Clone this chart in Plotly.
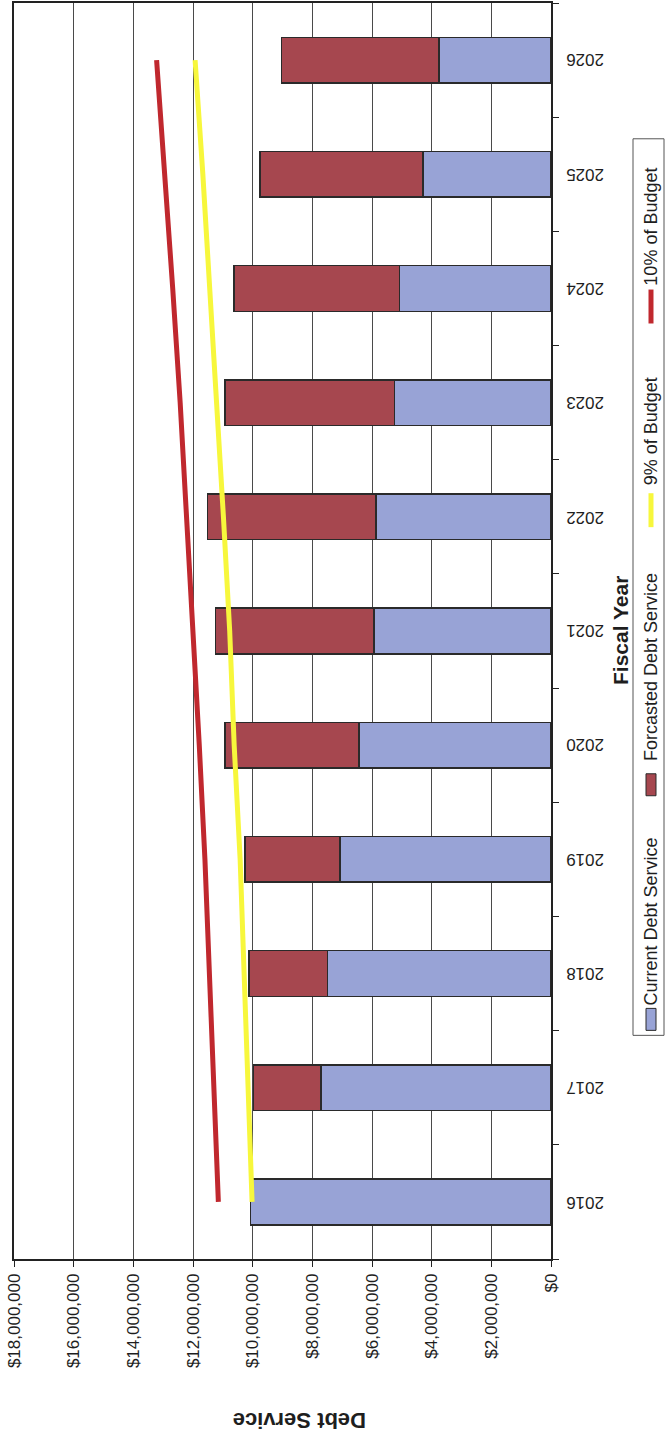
import plotly.graph_objects as go

# Fiscal years and debt service amounts (dollars)
years = ["2016", "2017", "2018", "2019", "2020", "2021", "2022", "2023", "2024", "2025", "2026"]
current_debt = [10080000, 7710000, 7490000, 7070000, 6440000, 5940000, 5870000, 5240000, 5080000, 4290000, 3760000]
forecast_debt = [0, 2260000, 2640000, 3180000, 4480000, 5300000, 5650000, 5690000, 5550000, 5470000, 5280000]
budget_9pct = [10020000, 10160000, 10300000, 10420000, 10620000, 10770000, 10980000, 11200000, 11450000, 11670000, 11930000]
budget_10pct = [11150000, 11290000, 11440000, 11600000, 11790000, 11990000, 12200000, 12430000, 12680000, 12940000, 13220000]
value_ticks = [0, 2000000, 4000000, 6000000, 8000000, 10000000, 12000000, 14000000, 16000000, 18000000]
value_tick_labels = ["$0", "$2,000,000", "$4,000,000", "$6,000,000", "$8,000,000", "$10,000,000",
                     "$12,000,000", "$14,000,000", "$16,000,000", "$18,000,000"]

BLUE = "#98A3D6"
MAROON = "#A6474F"
YELLOW = "#F7F73C"
RED = "#C0282E"
EDGE = "#2a2a2a"
FONT = "Arial, Liberation Sans, sans-serif"

W, H = 667, 1437
ML, MR, MT, MB = 14, 116, 1, 178


def px(xp):
    return (xp - ML) / (W - ML - MR)


def py(yp):
    return (H - MB - yp) / (H - MT - MB)


fig = go.Figure()
fig.add_trace(go.Bar(x=current_debt, y=years, orientation="h", name="Current Debt Service",
                     marker=dict(color=BLUE, line=dict(color=EDGE, width=1.5))))
fig.add_trace(go.Bar(x=forecast_debt, y=years, orientation="h", name="Forcasted Debt Service",
                     marker=dict(color=MAROON, line=dict(color=EDGE, width=1.5))))
fig.add_trace(go.Scatter(x=budget_9pct, y=years, mode="lines", name="9% of Budget",
                         line=dict(color=YELLOW, width=5)))
fig.add_trace(go.Scatter(x=budget_10pct, y=years, mode="lines", name="10% of Budget",
                         line=dict(color=RED, width=5)))

fig.update_layout(
    width=W, height=H,
    margin=dict(l=ML, r=MR, t=MT, b=MB),
    paper_bgcolor="white", plot_bgcolor="white",
    barmode="stack", bargap=0.6,
    showlegend=False,
    font=dict(family=FONT, color="#1e1e1e", size=17),
)
fig.update_xaxes(
    range=[18000000, 0], tickvals=value_ticks, ticktext=value_tick_labels,
    tickangle=-90, tickfont=dict(size=17),
    showgrid=True, gridcolor="#4a4a4a", gridwidth=1,
    showline=True, linecolor="#222", linewidth=1.5, mirror=True,
    ticks="outside", ticklen=6, tickcolor="#222", zeroline=False,
)
fig.update_yaxes(
    type="category", categoryorder="array", categoryarray=years,
    range=[-0.5, 10.5], side="right", showticklabels=False,
    showgrid=False, showline=True, linecolor="#222", linewidth=1.5, mirror=True,
    ticks="outside", tickson="boundaries", ticklen=6, tickcolor="#222",
)

# Fiscal year labels, turned upside down beside the category axis
for idx, yr in enumerate(years):
    fig.add_annotation(text=yr, x=px(585), y=idx, xref="paper", yref="y", textangle=180,
                       showarrow=False, font=dict(size=17), xanchor="center", yanchor="middle")

# Axis titles
fig.add_annotation(text="<b>Debt Service</b>", x=px(300), y=py(1421), xref="paper", yref="paper",
                   textangle=180, showarrow=False, font=dict(size=22), xanchor="center", yanchor="middle")
fig.add_annotation(text="<b>Fiscal Year</b>", x=px(620), y=py(630), xref="paper", yref="paper",
                   textangle=-90, showarrow=False, font=dict(size=21), xanchor="center", yanchor="middle")

# Legend box, drawn rotated
fig.add_shape(type="rect", xref="paper", yref="paper", x0=px(633), x1=px(664), y0=py(1035), y1=py(137),
              line=dict(color="#555", width=1), fillcolor="white")
legend_items = [
    ("Current Debt Service", "bar", BLUE, 1019, 921),
    ("Forcasted Debt Service", "bar", MAROON, 784, 666),
    ("9% of Budget", "line", YELLOW, 509, 430),
    ("10% of Budget", "line", RED, 305, 225),
]
for label, kind, color, sy, ty in legend_items:
    if kind == "bar":
        fig.add_shape(type="rect", xref="paper", yref="paper", x0=px(646), x1=px(656),
                      y0=py(sy + 11), y1=py(sy - 11), fillcolor=color, line=dict(color=EDGE, width=1))
    else:
        fig.add_shape(type="line", xref="paper", yref="paper", x0=px(651), x1=px(651),
                      y0=py(sy + 17), y1=py(sy - 17), line=dict(color=color, width=5))
    fig.add_annotation(text=label, x=px(651), y=py(ty), xref="paper", yref="paper", textangle=-90,
                       showarrow=False, font=dict(size=18), xanchor="center", yanchor="middle")

fig.write_html("out.html")
